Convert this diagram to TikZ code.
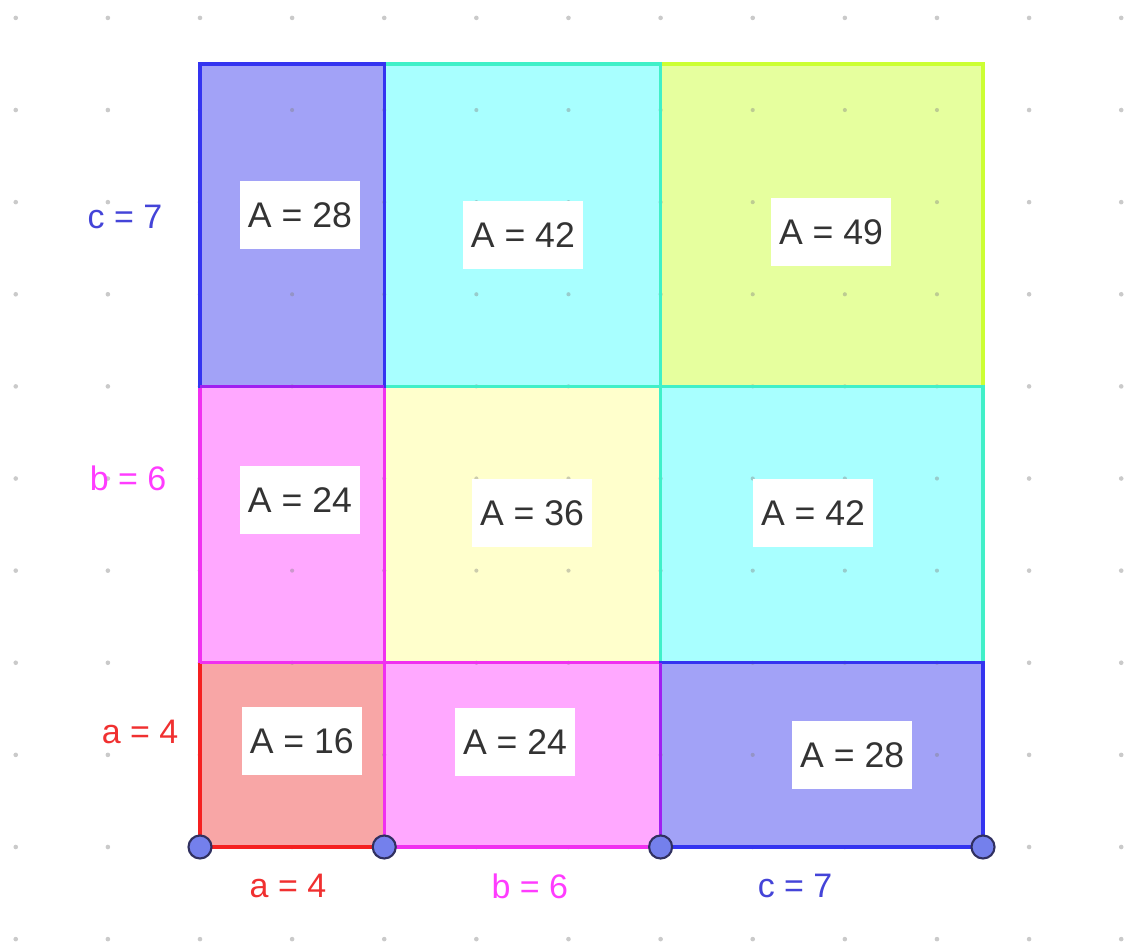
\documentclass[tikz,border=0pt]{standalone}
\usepackage{fontspec}
\setmainfont{Liberation Sans}
\definecolor{bluefill}{HTML}{A2A2F7}
\definecolor{blueline}{HTML}{3434F0}
\definecolor{cyanfill}{HTML}{A8FFFF}
\definecolor{cyanline}{HTML}{40F0C8}
\definecolor{greenfill}{HTML}{E6FF9E}
\definecolor{greenline}{HTML}{CCFF33}
\definecolor{magfill}{HTML}{FFA8FF}
\definecolor{magline}{HTML}{F030F0}
\definecolor{purpline}{HTML}{A020F0}
\definecolor{yelfill}{HTML}{FFFFCC}
\definecolor{yelline}{HTML}{FFFFAA}
\definecolor{redfill}{HTML}{F8A6A6}
\definecolor{redline}{HTML}{F52020}
\definecolor{ptfill}{HTML}{7480EC}
\definecolor{ptline}{HTML}{303060}
\definecolor{txtgray}{HTML}{333333}
\definecolor{lblblue}{HTML}{4444D8}
\definecolor{lblmag}{HTML}{FF3CFF}
\definecolor{lblred}{HTML}{F03030}
\tikzset{
  sq/.style={line width=2pt, line join=miter},
  area/.style={fill=white, text=txtgray, minimum width=2.6cm, minimum height=1.47cm, inner sep=0pt, font=\fontsize{22}{26}\selectfont},
  sidelbl/.style={inner sep=0pt, font=\fontsize{21}{25}\selectfont},
  pt/.style={circle, fill=ptfill, draw=ptline, line width=1.3pt, minimum size=0.5cm, inner sep=0pt},
  griddot/.style={fill=gray!70, opacity=0.6}
}
\begin{document}
\begin{tikzpicture}[x=1cm,y=1cm]
\useasboundingbox (-4.342,-2.128) rectangle (20.104,18.389);
% grid dots
\foreach \x in {-4,-2,...,20}{
  \foreach \y in {-2,0,...,18}{
    \fill[griddot] (\x,\y) circle (0.05);
  }
}
% fills
\fill[redfill] (0,0) rectangle (4,4);
\fill[magfill] (4,0) rectangle (10,4);
\fill[bluefill] (10,0) rectangle (17,4);
\fill[magfill] (0,4) rectangle (4,10);
\fill[yelfill] (4,4) rectangle (10,10);
\fill[cyanfill] (10,4) rectangle (17,10);
\fill[bluefill] (0,10) rectangle (4,17);
\fill[cyanfill] (4,10) rectangle (10,17);
\fill[greenfill] (10,10) rectangle (17,17);
% grid dots showing through
\foreach \x in {2,4,...,16}{
  \foreach \y in {2,4,...,16}{
    \fill[gray, opacity=0.4] (\x,\y) circle (0.045);
  }
}
% borders
\draw[sq, yelline] (4,4) rectangle (10,10);
\draw[sq, greenline] (10,10) rectangle (17,17);
\draw[sq, cyanline] (4,10) rectangle (10,17);
\draw[sq, cyanline] (10,4) rectangle (17,10);
\draw[sq, magline] (0,4) rectangle (4,10);
\draw[sq, blueline] (0,10) rectangle (4,17);
\draw[sq, purpline] (0,10) -- (4,10);
\draw[sq, magline] (4,0) rectangle (10,4);
\draw[sq, blueline] (10,0) rectangle (17,4);
\draw[sq, purpline] (10,0) -- (10,4);
\draw[sq, redline] (4,0) -- (0,0) -- (0,4);
\draw[sq, magline] (0,4) -- (4,4) -- (4,0);
% area labels
\node[area] (a1) at (2.17,13.72) {A = 28};
\node[area] (a2) at (7.01,13.29) {A = 42};
\node[area] (a3) at (13.70,13.35) {A = 49};
\node[area] (a4) at (2.17,7.53) {A = 24};
\node[area] (a5) at (7.21,7.25) {A = 36};
\node[area] (a6) at (13.31,7.25) {A = 42};
\node[area] (a7) at (2.21,2.30) {A = 16};
\node[area] (a8) at (6.84,2.28) {A = 24};
\node[area] (a9) at (14.16,2.00) {A = 28};
% side labels
\node[sidelbl, text=lblblue] (lc) at (-1.63,13.68) {c = 7};
\node[sidelbl, text=lblmag] (lb) at (-1.56,8.01) {b = 6};
\node[sidelbl, text=lblred] (la) at (-1.30,2.50) {a = 4};
\node[sidelbl, text=lblred] (ba) at (1.91,-0.85) {a = 4};
\node[sidelbl, text=lblmag] (bb) at (7.16,-0.85) {b = 6};
\node[sidelbl, text=lblblue] (bc) at (12.92,-0.85) {c = 7};
% points
\node[pt] (p0) at (0,0) {};
\node[pt] (p1) at (4,0) {};
\node[pt] (p2) at (10,0) {};
\node[pt] (p3) at (17,0) {};
\end{tikzpicture}
\end{document}
